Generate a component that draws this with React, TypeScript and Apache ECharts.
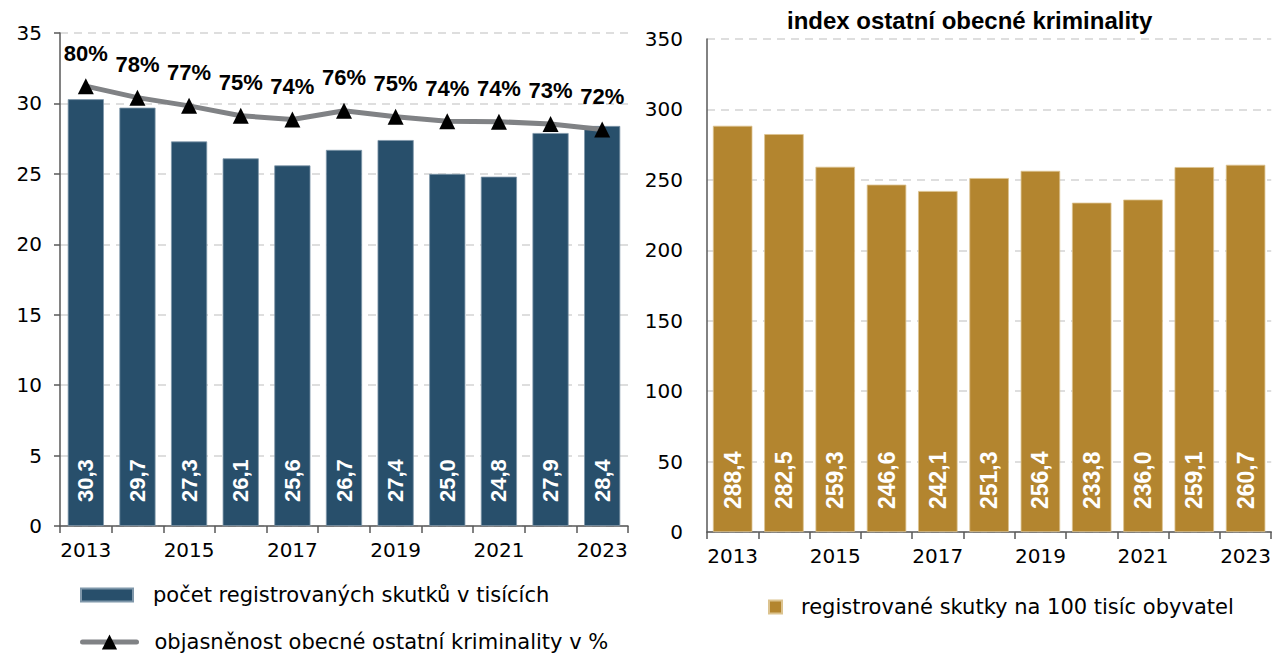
import React, { useEffect, useRef } from "react";
import * as echarts from "echarts";

const years = ["2013", "2014", "2015", "2016", "2017", "2018", "2019", "2020", "2021", "2022", "2023"];
const offenceCounts = [30.3, 29.7, 27.3, 26.1, 25.6, 26.7, 27.4, 25.0, 24.8, 27.9, 28.4];
const clearanceRates = [80.3, 78.2, 76.7, 74.9, 74.2, 75.8, 74.7, 73.9, 73.8, 73.4, 72.4];
const ratePer100k = [288.4, 282.5, 259.3, 246.6, 242.1, 251.3, 256.4, 233.8, 236.0, 259.1, 260.7];

const nameCounts = "počet registrovaných skutků v tisících";
const nameClearance = "objasněnost obecné ostatní kriminality v %";
const nameRate = "registrované skutky na 100 tisíc obyvatel";
const titleText = "index ostatní obecné kriminality";

const TICK_FONT = "'DejaVu Sans', sans-serif";
const BOLD_FONT = "'Liberation Sans', Arial, sans-serif";

const LINE_GREY = "#808285";

const comma = (v: number) => v.toFixed(1).replace(".", ",");

export default function App() {
  const ref = useRef<HTMLDivElement>(null);
  useEffect(() => {
    document.body.style.margin = "0";
    const chart = echarts.init(ref.current!, null, { renderer: "svg" });
    const axisLine = { show: true, lineStyle: { color: "#595959", width: 1.5 } };
    const xAxisCommon = (gridIndex: number) => ({
      type: "category",
      gridIndex,
      data: years,
      boundaryGap: true,
      axisLine,
      axisTick: { show: true, interval: 0, alignWithLabel: false, length: 7, lineStyle: { color: "#595959", width: 1.5 } },
      axisLabel: { interval: 1, color: "#000", fontFamily: TICK_FONT, fontSize: 20, margin: 14 },
      splitLine: { show: false },
    });
    const split = { show: true, lineStyle: { color: "#d4d4d4", type: [8, 6], width: 1.5 } };
    const barLabel = (dist: number, size: number) => ({
      show: true,
      position: "insideBottom",
      rotate: 90,
      align: "left",
      verticalAlign: "middle",
      distance: dist,
      color: "#fff",
      fontWeight: "bold",
      fontFamily: BOLD_FONT,
      fontSize: size,
      formatter: (p: any) => comma(p.value),
    });
    const legendText = { fontFamily: TICK_FONT, fontSize: 21, color: "#000", lineHeight: 24 };
    chart.setOption({
      animation: false,
      title: {
        text: titleText,
        left: 787,
        top: 8,
        padding: 0,
        textStyle: { fontFamily: BOLD_FONT, fontWeight: "bold", fontSize: 24, color: "#000" },
      },
      grid: [
        { left: 60, right: 646, top: 33, bottom: 127 },
        { left: 707, right: 2, top: 39, bottom: 121 },
      ],
      legend: [
        {
          data: [nameCounts],
          left: 80,
          top: 583,
          padding: 0,
          icon: "rect",
          itemWidth: 52,
          itemHeight: 13,
          textStyle: { ...legendText, padding: [0, 0, 0, 15] },
        },
        {
          data: [
            {
              name: nameClearance,
              lineStyle: { color: LINE_GREY, width: 5, cap: "round" },
              itemStyle: { color: "#000" },
            },
          ],
          left: 80,
          top: 630,
          padding: 0,
          itemWidth: 54,
          itemHeight: 19,
          textStyle: { ...legendText, padding: [0, 0, 0, 13] },
        },
        {
          data: [nameRate],
          left: 768,
          top: 595,
          padding: 0,
          icon: "rect",
          itemWidth: 13,
          itemHeight: 13,
          textStyle: { ...legendText, padding: [0, 0, 0, 14] },
        },
      ],
      xAxis: [xAxisCommon(0), xAxisCommon(1)],
      yAxis: [
        {
          type: "value",
          gridIndex: 0,
          min: 0,
          max: 35,
          interval: 5,
          axisLine,
          axisTick: { show: true, length: 6, lineStyle: { color: "#595959", width: 1.5 } },
          axisLabel: { color: "#000", fontFamily: TICK_FONT, fontSize: 20, margin: 18 },
          splitLine: split,
        },
        {
          type: "value",
          gridIndex: 0,
          min: 0,
          max: 90,
          show: false,
          splitLine: { show: false },
        },
        {
          type: "value",
          gridIndex: 1,
          min: 0,
          max: 350,
          interval: 50,
          axisLine,
          axisTick: { show: false },
          axisLabel: { color: "#000", fontFamily: TICK_FONT, fontSize: 20, margin: 24 },
          splitLine: split,
        },
      ],
      series: [
        {
          name: nameCounts,
          type: "bar",
          xAxisIndex: 0,
          yAxisIndex: 0,
          data: offenceCounts,
          barCategoryGap: "30%",
          itemStyle: { color: "#284f6b", borderColor: "#7f97aa", borderWidth: 0.8 },
          label: barLabel(24, 22),
        },
        {
          name: nameClearance,
          type: "line",
          xAxisIndex: 0,
          yAxisIndex: 1,
          data: clearanceRates,
          symbol: "triangle",
          symbolSize: 16,
          itemStyle: { color: "#000" },
          lineStyle: { color: LINE_GREY, width: 5 },
          label: {
            show: true,
            position: "top",
            distance: 14,
            color: "#000",
            fontWeight: "bold",
            fontFamily: BOLD_FONT,
            fontSize: 22,
            formatter: (p: any) => Math.round(p.value) + "%",
          },
          z: 5,
        },
        {
          name: nameRate,
          type: "bar",
          xAxisIndex: 1,
          yAxisIndex: 2,
          data: ratePer100k,
          barCategoryGap: "23%",
          itemStyle: { color: "#b3852f", borderColor: "#dcc38f", borderWidth: 0.8 },
          label: barLabel(23, 23),
        },
      ],
    });
    return () => chart.dispose();
  }, []);
  return <div ref={ref} style={{ width: 1274, height: 653 }} />;
}
